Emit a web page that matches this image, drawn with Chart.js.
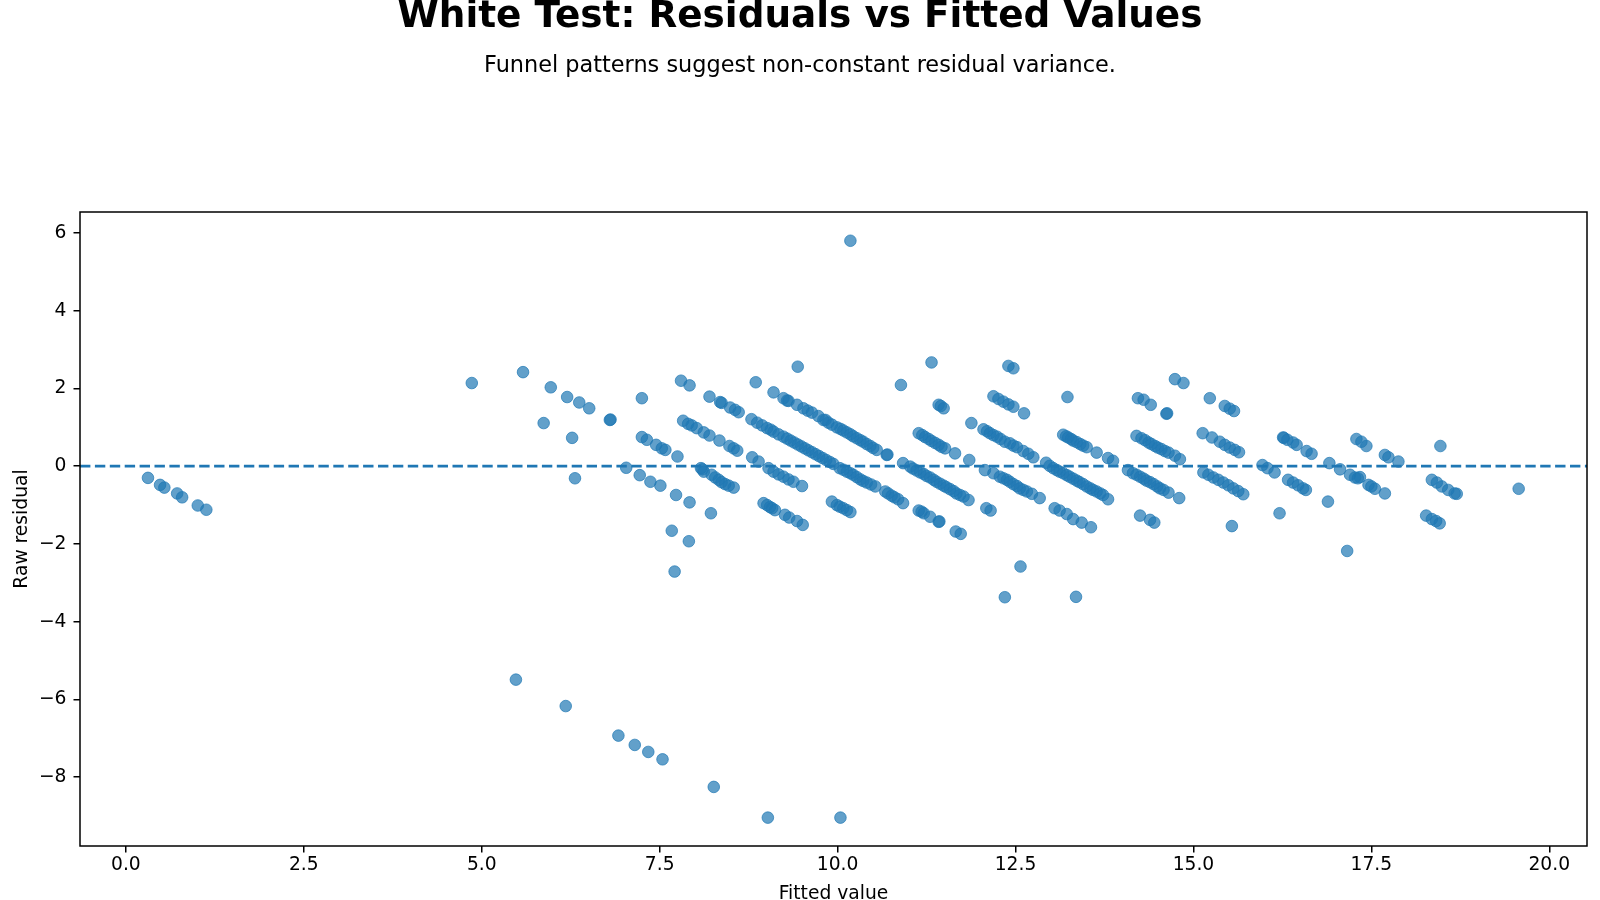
<!DOCTYPE html>
<html>
<head>
<meta charset="utf-8">
<title>White Test: Residuals vs Fitted Values</title>
<script src="https://cdn.jsdelivr.net/npm/chart.js@4.4.1/dist/chart.umd.min.js"></script>
<style>
  html, body { margin: 0; padding: 0; background: #ffffff; }
  #chartBox { width: 1600px; height: 900px; }
</style>
</head>
<body>
<div id="chartBox"><canvas id="graficoResiduos" width="1600" height="900"></canvas></div>
<script>
// textos
var tituloGrafico = "White Test: Residuals vs Fitted Values";
var subtituloGrafico = "Funnel patterns suggest non-constant residual variance.";
var tituloEixoX = "Fitted value";
var tituloEixoY = "Raw residual";

// ticks e limites dos eixos
var ticksX = [0, 2.5, 5, 7.5, 10, 12.5, 15, 17.5, 20];
var ticksY = [-8, -6, -4, -2, 0, 2, 4, 6];
var limitesX = [-0.645, 20.53];
var limitesY = [-9.77, 6.54];

// [fitted, residual]
var pontosResiduos = [
  [0.31,-0.30],[0.48,-0.48],[0.54,-0.55],[0.72,-0.70],[0.79,-0.80],[1.01,-1.01],[1.13,-1.12],
  [5.48,-5.49],[6.18,-6.17],[6.92,-6.93],[7.15,-7.17],[7.34,-7.35],[7.54,-7.54],[8.26,-8.25],[9.02,-9.04],[10.04,-9.04],
  [10.18,5.80],
  [4.86,2.14],[5.58,2.42],[5.97,2.03],[6.20,1.78],[6.37,1.64],[6.51,1.49],[6.80,1.19],[6.81,1.20],[5.87,1.11],[6.27,0.73],[6.31,-0.31],
  [7.03,-0.04],[7.22,-0.23],[7.25,1.75],[7.25,0.75],[7.32,0.68],[7.37,-0.40],
  [7.45,0.55],[7.53,0.46],[7.58,0.42],[7.75,0.25],[7.51,-0.50],[7.73,-0.74],[7.92,-0.93],[8.22,-1.21],[7.67,-1.66],[7.91,-1.93],[7.71,-2.71],
  [7.80,2.20],[7.92,2.08],[8.20,1.79],[8.35,1.65],[8.37,1.63],[8.49,1.51],[8.56,1.45],[8.61,1.39],
  [7.83,1.17],[7.90,1.09],[7.95,1.05],[8.02,0.98],[8.12,0.87],[8.20,0.79],[8.34,0.66],[8.48,0.52],[8.54,0.46],[8.59,0.40],
  [8.08,-0.05],[8.10,-0.08],[8.12,-0.14],[8.23,-0.22],[8.28,-0.29],[8.33,-0.35],[8.37,-0.41],[8.42,-0.46],[8.47,-0.50],[8.54,-0.55],
  [8.85,2.16],[9.44,2.56],[9.10,1.90],[9.24,1.75],[9.29,1.69],[9.31,1.68],[9.43,1.58],[9.52,1.49],[9.58,1.43],[9.64,1.38],[9.73,1.29],[9.83,1.19],[9.87,1.12],
  [8.79,1.21],[8.87,1.12],[8.94,1.05],[9.01,0.98],[9.06,0.94],[9.10,0.89],[9.17,0.82],
  [9.24,0.76],[9.29,0.71],[9.34,0.66],[9.39,0.61],[9.44,0.56],[9.49,0.51],[9.54,0.46],[9.59,0.41],[9.64,0.36],[9.69,0.31],[9.74,0.26],[9.79,0.21],[9.84,0.16],[9.89,0.11],
  [8.80,0.23],[8.89,0.12],
  [9.03,-0.05],[9.10,-0.14],[9.17,-0.21],[9.24,-0.27],[9.31,-0.34],[9.38,-0.40],[9.50,-0.51],
  [8.96,-0.95],[9.01,-1.00],[9.05,-1.05],[9.08,-1.08],[9.12,-1.13],
  [9.26,-1.25],[9.32,-1.32],[9.43,-1.41],[9.51,-1.51],
  [11.32,2.67],[10.89,2.09],[11.42,1.58],[11.45,1.55],[11.49,1.49],[11.88,1.11],[12.40,2.58],
  [9.80,1.19],[9.92,1.07],[9.99,1.00],[10.04,0.96],[10.08,0.92],[10.13,0.87],[10.18,0.82],[10.22,0.77],[10.27,0.72],[10.32,0.67],[10.36,0.63],
  [10.41,0.57],[10.46,0.52],[10.50,0.47],[10.55,0.42],[10.69,0.29],[10.70,0.30],
  [9.94,0.06],[10.03,-0.05],[10.08,-0.09],[10.13,-0.14],[10.18,-0.18],[10.22,-0.22],[10.27,-0.28],[10.32,-0.34],[10.36,-0.38],[10.41,-0.42],
  [10.47,-0.47],[10.53,-0.52],[10.67,-0.65],[10.71,-0.70],[10.76,-0.76],[10.80,-0.80],[10.85,-0.85],[10.92,-0.95],
  [9.92,-0.91],[9.99,-1.00],[10.03,-1.04],[10.08,-1.08],[10.13,-1.13],[10.18,-1.18],
  [10.92,0.08],[11.02,-0.01],[11.06,-0.06],[11.11,-0.11],[11.16,-0.16],[11.21,-0.20],[11.25,-0.25],[11.30,-0.29],[11.35,-0.35],[11.39,-0.40],
  [11.44,-0.45],[11.49,-0.50],[11.53,-0.54],[11.58,-0.59],[11.63,-0.64],[11.67,-0.70],[11.72,-0.74],[11.77,-0.78],[11.84,-0.87],
  [11.14,0.85],[11.19,0.80],[11.23,0.75],[11.28,0.70],[11.32,0.65],[11.37,0.60],[11.42,0.55],[11.46,0.50],[11.51,0.46],[11.65,0.33],
  [11.14,-1.14],[11.18,-1.17],[11.21,-1.21],[11.30,-1.30],[11.42,-1.43],[11.43,-1.42],
  [11.66,-1.68],[11.73,-1.74],
  [11.85,0.16],[12.07,-0.10],[12.09,-1.08],[12.15,-1.14],
  [12.35,-3.37],
  [12.47,2.52],
  [12.19,1.80],[12.26,1.73],[12.33,1.66],[12.40,1.59],[12.47,1.53],[12.62,1.36],
  [12.05,0.95],[12.10,0.90],[12.14,0.85],[12.19,0.80],[12.24,0.76],[12.29,0.70],[12.35,0.63],[12.42,0.59],[12.47,0.53],[12.52,0.49],
  [12.61,0.39],[12.68,0.32],[12.75,0.23],
  [12.19,-0.18],[12.28,-0.27],[12.33,-0.31],[12.38,-0.35],[12.42,-0.40],[12.47,-0.46],[12.52,-0.51],[12.56,-0.57],[12.61,-0.61],[12.66,-0.65],
  [12.73,-0.71],[12.84,-0.82],
  [12.57,-2.58],[13.35,-3.36],
  [13.23,1.78],
  [12.93,0.09],[12.98,0.01],[13.03,-0.05],[13.08,-0.10],[13.12,-0.14],[13.17,-0.18],[13.22,-0.23],[13.26,-0.27],[13.31,-0.32],[13.36,-0.37],
  [13.40,-0.41],[13.45,-0.46],[13.50,-0.52],[13.55,-0.57],[13.59,-0.61],[13.64,-0.65],[13.69,-0.70],[13.73,-0.74],[13.80,-0.85],
  [13.17,0.81],[13.21,0.77],[13.24,0.74],[13.28,0.70],[13.31,0.66],[13.36,0.62],[13.41,0.57],[13.45,0.53],[13.50,0.49],[13.64,0.35],
  [13.80,0.21],[13.87,0.14],
  [13.05,-1.08],[13.12,-1.14],[13.22,-1.23],[13.31,-1.36],[13.43,-1.45],[13.56,-1.57],
  [14.22,1.75],[14.30,1.71],[14.40,1.58],
  [14.74,2.24],[14.86,2.14],
  [14.62,1.35],[14.63,1.36],
  [14.20,0.78],[14.27,0.72],[14.32,0.67],[14.37,0.61],[14.41,0.57],[14.46,0.52],[14.50,0.48],[14.55,0.44],[14.60,0.39],[14.65,0.35],
  [14.74,0.27],[14.81,0.18],
  [14.08,-0.10],[14.15,-0.18],[14.20,-0.22],[14.25,-0.27],[14.30,-0.32],[14.34,-0.37],[14.39,-0.41],[14.44,-0.46],[14.49,-0.52],[14.53,-0.57],
  [14.58,-0.61],[14.65,-0.68],
  [14.80,-0.82],
  [14.25,-1.27],[14.39,-1.38],[14.45,-1.45],
  [15.23,1.75],[15.44,1.55],[15.51,1.48],[15.57,1.42],
  [15.13,0.85],[15.26,0.74],[15.37,0.63],[15.44,0.55],[15.51,0.48],[15.58,0.42],[15.64,0.36],
  [15.14,-0.16],[15.21,-0.22],[15.28,-0.29],[15.35,-0.35],[15.42,-0.42],[15.49,-0.49],[15.56,-0.57],[15.63,-0.64],[15.70,-0.72],
  [15.54,-1.54],
  [15.97,0.03],[16.04,-0.05],[16.14,-0.16],[16.21,-1.21],
  [16.26,0.74],[16.27,0.73],[16.32,0.68],[16.40,0.61],[16.45,0.55],[16.59,0.39],[16.66,0.32],
  [16.33,-0.35],[16.40,-0.42],[16.47,-0.49],[16.54,-0.57],[16.58,-0.61],
  [16.91,0.08],[16.89,-0.91],[17.06,-0.08],[17.20,-0.22],[17.27,-0.29],[17.31,-0.31],[17.16,-2.18],
  [17.29,0.70],[17.36,0.63],[17.43,0.52],[17.46,-0.48],
  [17.69,0.29],[17.74,0.23],[17.88,0.12],[17.34,-0.28],[17.50,-0.52],[17.55,-0.58],[17.69,-0.70],
  [18.47,0.52],[18.35,-0.35],[18.42,-0.42],[18.49,-0.52],[18.58,-0.61],[18.67,-0.70],[18.70,-0.71],
  [18.27,-1.27],[18.35,-1.36],[18.41,-1.41],[18.46,-1.47],
  [19.57,-0.58]
];

var corPontos = "rgba(31, 119, 180, 0.7)";
var corLinha = "#1f77b4";
var fonte = "DejaVu Sans";

function sinalMenos(v){
    // matplotlib usa o sinal de menos unicode
    return String(v).replace("-", "\u2212");
}

// titulo e subtitulo + moldura do grafico
var pluginTitulos = {
    id: "titulos",
    afterDraw: function(chart){
        var ctx = chart.ctx;
        var area = chart.chartArea;
        ctx.save();
        ctx.strokeStyle = "#000000";
        ctx.lineWidth = 1.5;
        ctx.strokeRect(area.left, area.top, area.right - area.left, area.bottom - area.top);

        ctx.fillStyle = "#000000";
        ctx.textAlign = "center";
        ctx.textBaseline = "alphabetic";
        ctx.font = "bold 37.4px '" + fonte + "'";
        ctx.fillText(tituloGrafico, 800, 27);
        ctx.font = "22.4px '" + fonte + "'";
        ctx.fillText(subtituloGrafico, 800, 72);
        ctx.restore();
    }
};

var dadosPontos = pontosResiduos.map(function(p){ return {x: p[0], y: p[1]}; });

var config = {
    type: "scatter",
    data: {
        datasets: [
            {
                // linha tracejada em zero
                type: "line",
                data: [{x: limitesX[0], y: 0}, {x: limitesX[1], y: 0}],
                borderColor: corLinha,
                borderWidth: 2.8,
                borderDash: [10.4, 4.5],
                pointRadius: 0,
                fill: false,
                order: 0
            },
            {
                data: dadosPontos,
                backgroundColor: corPontos,
                borderColor: corPontos,
                borderWidth: 1,
                pointRadius: 5.8,
                pointHoverRadius: 5.8,
                order: 1
            }
        ]
    },
    options: {
        responsive: false,
        animation: false,
        devicePixelRatio: 1,
        layout: { padding: { top: 212, right: 13, bottom: 0, left: 0 } },
        plugins: {
            legend: { display: false },
            tooltip: { enabled: false },
            title: { display: false }
        },
        scales: {
            x: {
                type: "linear",
                min: limitesX[0],
                max: limitesX[1],
                afterFit: function(s){ s.height = 54; },
                afterBuildTicks: function(s){ s.ticks = ticksX.map(function(v){ return {value: v}; }); },
                grid: { display: true, drawOnChartArea: false, drawTicks: true, tickLength: 6.5, color: "#000000", lineWidth: 1.5 },
                border: { display: false },
                ticks: {
                    color: "#000000",
                    padding: 1.5,
                    maxRotation: 0,
                    font: { family: fonte, size: 18.7 },
                    callback: function(v){ return sinalMenos(Number(v).toFixed(1)); }
                },
                title: {
                    display: true,
                    text: tituloEixoX,
                    color: "#000000",
                    font: { family: fonte, size: 18.7, lineHeight: 1 },
                    padding: { top: 0, bottom: -3 }
                }
            },
            y: {
                type: "linear",
                min: limitesY[0],
                max: limitesY[1],
                afterFit: function(s){ s.width = 80; },
                afterBuildTicks: function(s){ s.ticks = ticksY.map(function(v){ return {value: v}; }); },
                grid: { display: true, drawOnChartArea: false, drawTicks: true, tickLength: 6.5, color: "#000000", lineWidth: 1.5 },
                border: { display: false },
                ticks: {
                    color: "#000000",
                    padding: 7,
                    font: { family: fonte, size: 18.7 },
                    callback: function(v){ return sinalMenos(v); }
                },
                title: {
                    display: true,
                    text: tituloEixoY,
                    color: "#000000",
                    font: { family: fonte, size: 18.7, lineHeight: 1 },
                    padding: { top: 12.6, bottom: 0 }
                }
            }
        }
    },
    plugins: [pluginTitulos]
};

var graficoResiduos = new Chart(document.getElementById("graficoResiduos"), config);
</script>
</body>
</html>
